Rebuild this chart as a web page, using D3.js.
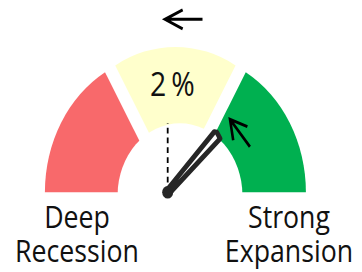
<!DOCTYPE html>
<html>
<head>
<meta charset="utf-8">
<script src="https://cdn.jsdelivr.net/npm/d3@7"></script>
<style>
  html, body { margin: 0; padding: 0; background: #ffffff; }
  svg { display: block; }
  text { font-family: "Open Sans", "Noto Sans", sans-serif; fill: #111111; }
</style>
</head>
<body>
<script>
// ---------- data ----------
const segmentNames  = ["Deep Recession", "Neutral", "Strong Expansion"];
const segmentValues = [1, 1, 1];
const scaleDomain   = [-4, 4];        // gauge range (%)
const needleValue   = 2;              // current reading (%)
const referenceValue = 0;             // dashed reference
const valueLabel    = "2%";
const leftLabel     = ["Deep", "Recession"];
const rightLabel    = ["Strong", "Expansion"];

// ---------- styling / layout ----------
const segmentColors = ["#F8696B", "#FFFFCC", "#00B050"];
const W = 362, H = 272;
const stretchY = 1.152;               // picture is stretched vertically
const cx = 175.4, cy = 172.8;         // pie centre (unstretched units)
const outerR = 120.3, explode = 11.8;
const hole = { x: 180, y: 169.4, r: 62.4 };
const pivot = { x: 167.7, y: 166.9 };
const needleLen = 70, refLen = 60;

const svg = d3.select("body").append("svg")
  .attr("width", W).attr("height", H);
svg.append("rect").attr("width", W).attr("height", H).attr("fill", "#fff");

const root = svg.append("g").attr("transform", `scale(1,${stretchY})`);

// gauge slices (exploded half pie)
const pie = d3.pie().sort(null)
  .startAngle(-Math.PI / 2).endAngle(Math.PI / 2)(segmentValues);
const arc = d3.arc().innerRadius(0).outerRadius(outerR);

root.append("g").selectAll("path")
  .data(pie)
  .join("path")
  .attr("d", arc)
  .attr("fill", (d, i) => segmentColors[i])
  .attr("transform", d => {
    const mid = (d.startAngle + d.endAngle) / 2;
    return `translate(${cx + explode * Math.sin(mid)},${cy - explode * Math.cos(mid)})`;
  });

// hole
root.append("circle")
  .attr("cx", hole.x).attr("cy", hole.y).attr("r", hole.r)
  .attr("fill", "#fff");

// angle scale (degrees from vertical, clockwise)
const angle = d3.scaleLinear().domain(scaleDomain).range([-90, 90]);

// reference dashed line
const ra = angle(referenceValue) * Math.PI / 180;
root.append("line")
  .attr("x1", pivot.x).attr("y1", pivot.y)
  .attr("x2", pivot.x + refLen * Math.sin(ra))
  .attr("y2", pivot.y - refLen * Math.cos(ra))
  .attr("stroke", "#000").attr("stroke-width", 1.8)
  .attr("stroke-dasharray", "5,3.5");

// needle
const ng = root.append("g")
  .attr("transform", `translate(${pivot.x},${pivot.y}) rotate(${angle(needleValue) - 90})`);
ng.append("path")
  .attr("d", `M0,-1.8 L${needleLen},-4.2 L${needleLen + 1.5},-2 L${needleLen},4.2 L0,1.8 Z`)
  .attr("fill", "#fff")
  .attr("stroke", "#262626").attr("stroke-width", 4.6)
  .attr("stroke-linejoin", "round");
root.append("circle")
  .attr("cx", pivot.x).attr("cy", pivot.y).attr("r", 5.5)
  .attr("fill", "#262626");

// value label
root.append("text")
  .attr("x", 150).attr("y", 83.3)
  .attr("font-size", 28.4)
  .attr("letter-spacing", 5)
  .text(valueLabel);

// arrows
function arrow(tx, ty, dirDeg, len, headLen, headDeg) {
  const a = dirDeg * Math.PI / 180;          // direction arrow points to
  const bx = tx - len * Math.cos(a), by = ty - len * Math.sin(a);
  const h1 = a + Math.PI - headDeg * Math.PI / 180;
  const h2 = a + Math.PI + headDeg * Math.PI / 180;
  const p = d3.path();
  p.moveTo(bx, by); p.lineTo(tx, ty);
  p.moveTo(tx + headLen * Math.cos(h1), ty + headLen * Math.sin(h1));
  p.lineTo(tx, ty);
  p.lineTo(tx + headLen * Math.cos(h2), ty + headLen * Math.sin(h2));
  root.append("path").attr("d", p.toString())
    .attr("fill", "none").attr("stroke", "#000")
    .attr("stroke-width", 2.6).attr("stroke-linecap", "butt")
    .attr("stroke-linejoin", "miter");
}
arrow(165, 16.75, 180, 37.5, 19.5, 25);
arrow(230, 103.6, -130, 31, 18.5, 30);

// end labels
function label(lines, x) {
  lines.forEach((s, i) => {
    root.append("text")
      .attr("text-anchor", "middle")
      .attr("font-size", 26.7)
      .attr("x", x)
      .attr("y", 197.7 + i * 29.5)
      .text(s);
  });
}
label(leftLabel, 77);
label(rightLabel, 289);
</script>
</body>
</html>
